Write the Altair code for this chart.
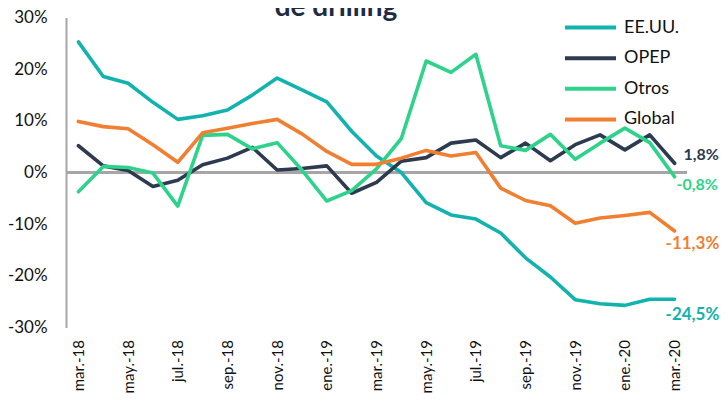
import altair as alt
import pandas as pd

months = ["mar.-18", "abr.-18", "may.-18", "jun.-18", "jul.-18", "ago.-18", "sep.-18",
          "oct.-18", "nov.-18", "dic.-18", "ene.-19", "feb.-19", "mar.-19", "abr.-19",
          "may.-19", "jun.-19", "jul.-19", "ago.-19", "sep.-19", "oct.-19", "nov.-19",
          "dic.-19", "ene.-20", "feb.-20", "mar.-20"]
shown_months = months[::2]

series_names = ["EE.UU.", "OPEP", "Otros", "Global"]
series_colors = ["#12B3AE", "#2D3A4F", "#2ED38B", "#F07F32"]

eeuu = [25.3, 18.6, 17.3, 13.6, 10.3, 11.0, 12.1, 15.0, 18.3, 16.0, 13.7, 8.0, 3.2,
        0.0, -5.8, -8.2, -9.0, -11.7, -16.5, -20.2, -24.6, -25.4, -25.7, -24.5, -24.5]
opep = [5.2, 1.3, 0.4, -2.7, -1.5, 1.5, 2.8, 4.9, 0.5, 0.8, 1.3, -4.0, -1.9,
        2.2, 2.9, 5.7, 6.3, 2.9, 5.7, 2.3, 5.4, 7.3, 4.4, 7.3, 1.8]
otros = [-3.7, 1.2, 1.0, -0.1, -6.5, 7.2, 7.4, 4.6, 5.8, 0.5, -5.5, -3.5, 0.7,
         6.6, 21.6, 19.4, 22.9, 5.2, 4.3, 7.4, 2.6, 5.7, 8.6, 5.8, -0.8]
global_ = [9.9, 8.9, 8.5, 5.4, 2.0, 7.7, 8.6, 9.5, 10.3, 7.5, 4.1, 1.6, 1.6,
           2.8, 4.3, 3.2, 3.9, -3.0, -5.4, -6.4, -9.8, -8.8, -8.3, -7.7, -11.3]

y_ticks = [-30, -20, -10, 0, 10, 20, 30]
title_text = "de drilling"

values = {"EE.UU.": eeuu, "OPEP": opep, "Otros": otros, "Global": global_}
rows = []
for name in series_names:
    for m, v in zip(months, values[name]):
        rows.append({"mes": m, "serie": name, "valor": v})
df = pd.DataFrame(rows)

def fmt(v):
    return ("%.1f%%" % v).replace(".", ",")

last = pd.DataFrame([{"mes": months[-1], "serie": n, "valor": values[n][-1],
                      "txt": fmt(values[n][-1])} for n in series_names])

FONT = "Lato"
W, H = 621, 310

x_enc = alt.X("mes:O", sort=months,
              scale=alt.Scale(type="point", padding=0.5),
              axis=alt.Axis(values=shown_months, labelAngle=270, domain=False, ticks=False,
                            labelPadding=12, labelFontSize=15, labelFont=FONT,
                            labelColor="#111111", title=None, grid=False))
y_enc = alt.Y("valor:Q", scale=alt.Scale(domain=[-30, 30], nice=False, zero=False),
              axis=alt.Axis(values=y_ticks, labelExpr="datum.value + '%'", domain=True,
                            domainColor="#A6A6A6", domainWidth=2, ticks=False,
                            labelPadding=19, labelFontSize=17, labelFont=FONT,
                            labelColor="#111111", title=None, grid=False))

color = alt.Color("serie:N", sort=series_names,
                  scale=alt.Scale(domain=series_names, range=series_colors),
                  legend=alt.Legend(title=None))

zero = alt.Chart(df).mark_rule(color="#A6A6A6", strokeWidth=2).encode(y=alt.datum(0))

lines = alt.Chart(df).mark_line(strokeWidth=3.6, strokeJoin="round", strokeCap="round").encode(
    x=x_enc, y=y_enc, color=color)

offsets = {"EE.UU.": (-9, 16, 17), "OPEP": (9, -8, 16), "Otros": (2, 8, 16), "Global": (-9, 13, 17)}
label_layers = []
for n, c in zip(series_names, series_colors):
    dx, dy, fs = offsets[n]
    label_layers.append(
        alt.Chart(last[last["serie"] == n]).mark_text(
            align="left", baseline="middle", dx=dx, dy=dy, fontSize=fs,
            fontWeight="bold", font=FONT, color=c).encode(
            x=alt.X("mes:O", sort=months), y="valor:Q", text="txt:N"))

title = alt.Chart(pd.DataFrame({"t": [title_text]})).mark_text(
    align="center", baseline="alphabetic", fontSize=28, fontWeight="bold",
    font=FONT, color="#1F2A44").encode(
    x=alt.value(270), y=alt.value(-1.5), text="t:N")

chart = alt.layer(zero, lines, *label_layers, title).properties(
    width=W, height=H,
    autosize=alt.AutoSizeParams(type="none"),
    padding={"left": 58, "top": 9.6, "right": 33, "bottom": 65},
).configure_view(stroke=None).configure_legend(
    orient="none", legendX=497, legendY=1, symbolType="stroke", symbolSize=2601,
    symbolStrokeWidth=4, labelFontSize=18, labelFont=FONT, labelColor="#111111",
    rowPadding=12.6, labelOffset=6, symbolOffset=0, clipHeight=18
)

chart.save("out.html", embed_options={"renderer": "svg", "actions": False})
